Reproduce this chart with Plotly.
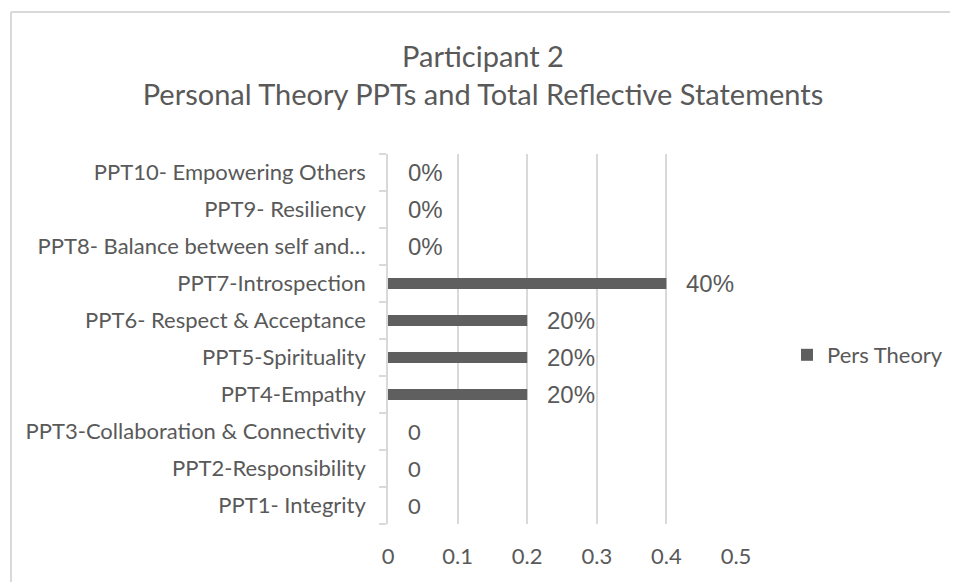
import plotly.graph_objects as go

categories = [
    "PPT1- Integrity",
    "PPT2-Responsibility",
    "PPT3-Collaboration & Connectivity",
    "PPT4-Empathy",
    "PPT5-Spirituality",
    "PPT6- Respect & Acceptance",
    "PPT7-Introspection",
    "PPT8- Balance between self and…",
    "PPT9- Resiliency",
    "PPT10- Empowering Others",
]
values = [0, 0, 0, 0.2, 0.2, 0.2, 0.4, 0, 0, 0]
value_labels = ["0", "0", "0", "20%", "20%", "20%", "40%", "0%", "0%", "0%"]
x_ticks = [0, 0.1, 0.2, 0.3, 0.4, 0.5]
x_tick_labels = ["0", "0.1", "0.2", "0.3", "0.4", "0.5"]
series_name = "Pers Theory"
title_lines = ["Participant 2", "Personal Theory PPTs and Total Reflective Statements"]

OFF = 8  # default page body margin
W, H = 958 - OFF, 582 - OFF
L, R, T, B = 388 - OFF, 736 - OFF, 154 - OFF, 524 - OFF
TXT = "#595959"
GRID = "#d9d9d9"
BASE = "Lato"
FS = 22


def px_x(p):
    return (p - OFF - L) / (R - L)


def px_y(p):
    return (B - (p - OFF)) / (B - T)


fig = go.Figure()
fig.add_trace(go.Bar(
    y=categories, x=values, orientation="h", name=series_name,
    marker=dict(color="#5f5f5f", line=dict(width=0)),
    width=0.3, showlegend=True,
))

for c, v, t in zip(categories, values, value_labels):
    fam = "Liberation Sans" if "%" in t else BASE
    fig.add_annotation(
        x=v, y=c, xref="x", yref="y", text=t, showarrow=False,
        xanchor="left", yanchor="middle", xshift=18,
        font=dict(family=fam, size=24 if "%" in t else FS, color=TXT),
    )

fig.update_layout(
    width=W, height=H,
    margin=dict(l=L, r=W - R, t=T, b=H - B, pad=0, autoexpand=False),
    paper_bgcolor="white", plot_bgcolor="white",
    font=dict(family=BASE, size=FS, color=TXT),
    title=dict(
        text="<br>".join(title_lines),
        x=0.5, xanchor="center", y=1 - 59 / H, yanchor="top",
        font=dict(family=BASE, size=29, color=TXT),
    ),
    xaxis=dict(
        range=[0, 0.5], tickvals=x_ticks, ticktext=x_tick_labels,
        showgrid=True, gridcolor=GRID, gridwidth=1.5,
        zeroline=False, showline=False, ticks="",
        ticklabelstandoff=17,
        tickfont=dict(family=BASE, size=FS, color=TXT),
        fixedrange=True,
    ),
    yaxis=dict(
        type="category", categoryorder="array", categoryarray=categories,
        showgrid=False, showline=True, linecolor=GRID, linewidth=1.5,
        ticks="outside", tickson="boundaries", ticklen=7, tickcolor=GRID, tickwidth=1.5,
        ticklabelstandoff=16,
        tickfont=dict(family=BASE, size=FS, color=TXT),
        fixedrange=True,
    ),
    legend=dict(
        x=px_x(787), y=px_y(355), xanchor="left", yanchor="middle",
        font=dict(family=BASE, size=FS, color=TXT), itemwidth=30,
        bgcolor="rgba(0,0,0,0)",
    ),
    shapes=[
        dict(type="line", xref="paper", yref="paper",
             x0=px_x(11), x1=px_x(990), y0=px_y(12), y1=px_y(12),
             line=dict(color=GRID, width=2)),
        dict(type="line", xref="paper", yref="paper",
             x0=px_x(11), x1=px_x(11), y0=px_y(12), y1=px_y(620),
             line=dict(color=GRID, width=2)),
    ],
)

fig.write_html("out.html")
